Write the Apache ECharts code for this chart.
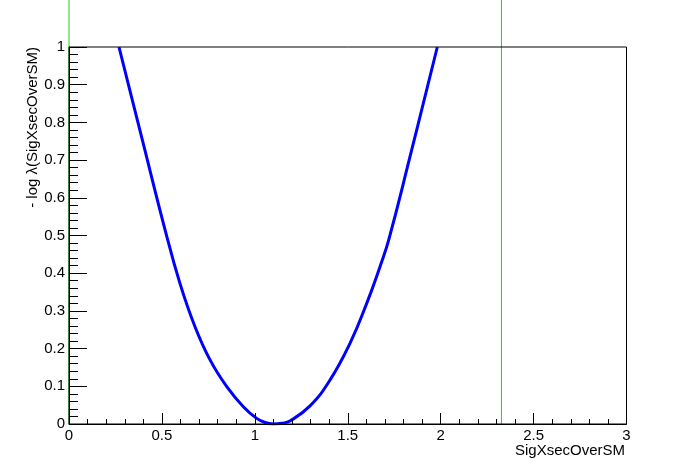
<!DOCTYPE html>
<html>
<head>
<meta charset="utf-8">
<script src="https://cdn.jsdelivr.net/npm/echarts@6/dist/echarts.min.js"></script>
<style>
html,body{margin:0;padding:0;background:#fff;}
#c{width:696px;height:472px;}
</style>
</head>
<body>
<div id="c"></div>
<script>
// Scan values
const scanX = [0.269, 0.395, 0.517, 0.597, 0.678, 0.759, 0.849, 0.938, 1.010, 1.055, 1.100, 1.145, 1.189, 1.297, 1.405, 1.512, 1.602, 1.674, 1.722, 1.835, 1.982];
const scanY = [1.000, 0.753, 0.515, 0.373, 0.258, 0.170, 0.099, 0.046, 0.015, 0.004, 0.000, 0.002, 0.008, 0.048, 0.117, 0.214, 0.320, 0.418, 0.491, 0.709, 1.000];
// Vertical marker lines (x positions)
const markerX = [0.0, 2.327];
const xTicks = [0, 0.5, 1, 1.5, 2, 2.5, 3];
const yTicks = [0, 0.1, 0.2, 0.3, 0.4, 0.5, 0.6, 0.7, 0.8, 0.9, 1];
const xTitle = 'SigXsecOverSM';
const yTitle = '- log λ(SigXsecOverSM)';

const FONT = '"Liberation Sans", Arial, Helvetica, sans-serif';
const chart = echarts.init(document.getElementById('c'), null, {renderer: 'canvas'});

const curve = scanX.map((x, i) => [x, scanY[i]]);
const markerSeries = markerX.map((x) => ({
  type: 'line',
  xAxisIndex: 1, yAxisIndex: 1,
  data: [[x, 0], [x, 1]],
  symbol: 'none',
  lineStyle: {color: '#11dd11', width: 1},
  silent: true,
  z: 1
}));

chart.setOption({
  animation: false,
  backgroundColor: '#ffffff',
  grid: [
    {left: 69, right: 69.5, top: 47, bottom: 48, show: true, borderColor: '#000', borderWidth: 1, backgroundColor: 'transparent', z: 3},
    {left: 69, right: 69.5, top: 0, bottom: 48, show: false}
  ],
  xAxis: [
    {
      type: 'value', gridIndex: 0, min: 0, max: 3, interval: 0.5,
      axisLine: {show: true, onZero: false, lineStyle: {color: '#000', width: 1}},
      axisTick: {show: true, inside: true, length: 11, lineStyle: {color: '#000'}},
      minorTick: {show: true, splitNumber: 5, length: 5, lineStyle: {color: '#000'}},
      splitLine: {show: false},
      axisLabel: {
        color: '#000', fontFamily: FONT, fontSize: 15, margin: 4,
        formatter: (v) => { const t = xTicks.find(k => Math.abs(k - v) < 1e-9); return t === undefined ? '' : String(t); }
      },
      z: 5
    },
    {type: 'value', gridIndex: 1, min: 0, max: 3, show: false}
  ],
  yAxis: [
    {
      type: 'value', gridIndex: 0, min: 0, max: 1, interval: 0.1,
      axisLine: {show: true, onZero: false, lineStyle: {color: '#000', width: 1}},
      axisTick: {show: true, inside: true, length: 18, lineStyle: {color: '#000'}},
      minorTick: {show: true, splitNumber: 5, length: 9, lineStyle: {color: '#000'}},
      splitLine: {show: false},
      axisLabel: {
        color: '#000', fontFamily: FONT, fontSize: 15, margin: 4,
        formatter: (v) => { const t = yTicks.find(k => Math.abs(k - v) < 1e-9); return t === undefined ? '' : String(t); }
      },
      z: 5
    },
    {type: 'value', gridIndex: 1, min: 0, max: 1, show: false}
  ],
  series: [
    ...markerSeries,
    {
      type: 'line',
      xAxisIndex: 0, yAxisIndex: 0,
      data: curve,
      symbol: 'none',
      smooth: 0.45,
      clip: true,
      lineStyle: {color: '#0000ff', width: 3},
      z: 4
    }
  ],
  graphic: [
    {
      type: 'text', right: 71, top: 443,
      style: {text: xTitle, font: '15px ' + FONT, fill: '#000'}
    },
    {
      type: 'text', x: 33, y: 47, rotation: Math.PI / 2,
      style: {text: yTitle, font: '15px ' + FONT, fill: '#000', align: 'right', verticalAlign: 'middle'}
    }
  ]
});
</script>
</body>
</html>
